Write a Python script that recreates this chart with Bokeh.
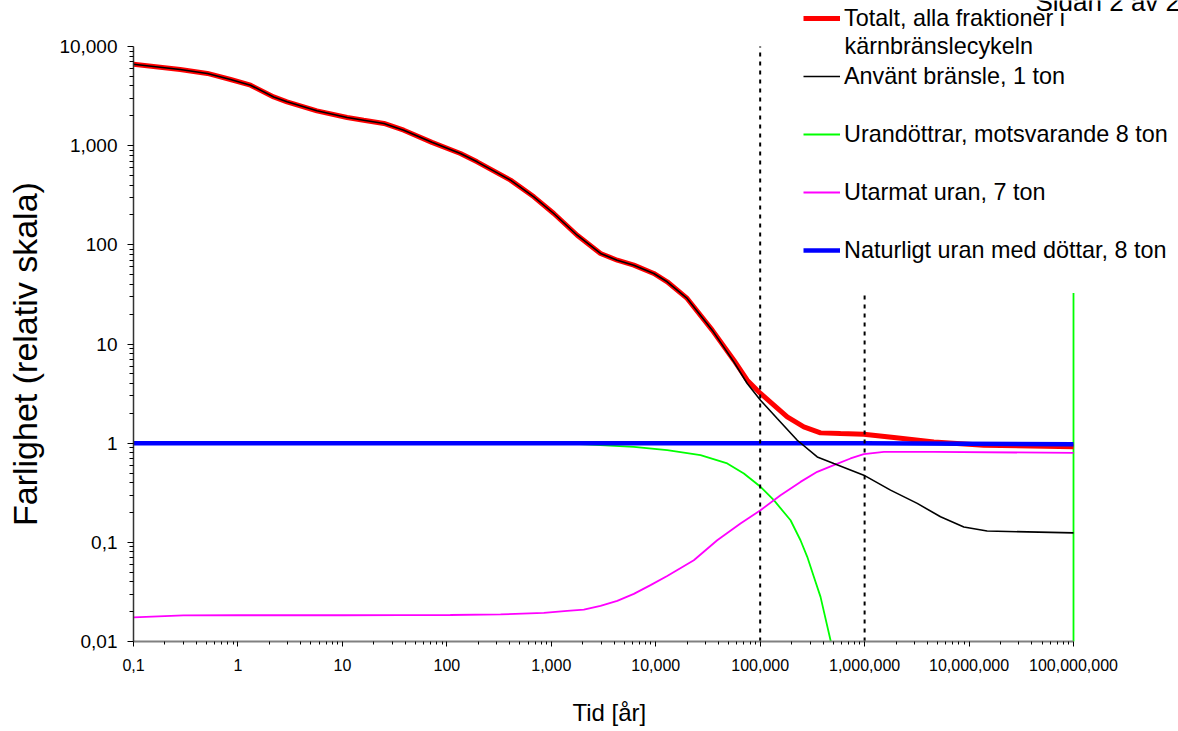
import math
from bokeh.plotting import figure
from bokeh.models import (Range1d, FixedTicker, CustomJSTickFormatter, Legend,
                          LegendItem, Label)
from bokeh.embed import file_html
from bokeh.resources import INLINE

FONT = "Liberation Sans"
NBSP = "\u00a0"

# ---------------- data ----------------
total_x = [0.1, 0.28, 0.51, 0.85, 1.32, 2.2, 2.95, 5.7, 11.1, 16, 25, 38.7, 72,
           135, 195, 407, 681, 1057, 1771, 2960, 4280, 6170, 9590, 12880, 20000,
           34760, 55970, 75160, 100700, 135200, 181600, 261800, 378400, 587600,
           982000, 1.905e6, 4.6e6, 1.385e7, 1e8]
total_y = [6630, 5870, 5350, 4650, 4070, 3100, 2770, 2245, 1925, 1807, 1675, 1433, 1080,
           834, 687, 449, 305, 207, 125, 81.8, 70, 62.4, 51.4, 42.4, 28.8,
           13.8, 6.87, 4.32, 3.17, 2.42, 1.84, 1.46, 1.27, 1.25,
           1.23, 1.14, 1.03, 0.954, 0.918]

spent_x = [0.1, 0.28, 0.51, 0.85, 1.32, 2.2, 2.95, 5.7, 11.1, 16, 25, 38.7, 72,
           135, 195, 407, 681, 1057, 1771, 2960, 4280, 6170, 9590, 12880, 20000,
           34760, 55970, 75160, 100700, 145600, 226500, 351900, 507000, 982000,
           1.77e6, 3.19e6, 5.33e6, 8.91e6, 1.49e7, 1e8]
spent_y = [6630, 5870, 5350, 4650, 4070, 3100, 2770, 2245, 1925, 1807, 1675, 1433, 1080,
           834, 687, 449, 305, 207, 125, 81.8, 70, 62.4, 51.4, 42.4, 28.8,
           13.8, 6.6, 4.0, 2.71, 1.77, 1.07, 0.727, 0.624, 0.476,
           0.336, 0.247, 0.181, 0.143, 0.130, 0.1245]

daughters_x = [0.1, 1500, 2960, 6170, 12880, 26850, 48400, 69800, 100700, 135200,
               195400, 243300, 282400, 326500, 378400, 471700, 5.5e5, 1e8, 1e8]
daughters_y = [1.0, 0.99, 0.955, 0.918, 0.85, 0.757, 0.624, 0.495, 0.363, 0.266,
               0.167, 0.105, 0.0714, 0.0449, 0.0282, 0.0103, 0.005, 1e-5, 32.6]

depleted_x = [0.1, 0.3, 1, 10, 36, 108, 327, 849, 1420, 2050, 2960, 4280, 6170,
              8920, 12880, 23170, 38800, 64800, 100700, 156700, 243300, 351900,
              507000, 732900, 982000, 1.53e6, 4.6e6, 1e8]
depleted_y = [0.0175, 0.0183, 0.0184, 0.0184, 0.01844, 0.0185, 0.01875, 0.01945,
              0.0204, 0.021, 0.0229, 0.0257, 0.0302, 0.037, 0.0458, 0.066, 0.105,
              0.155, 0.211, 0.299, 0.407, 0.514, 0.6, 0.701, 0.775, 0.817, 0.817,
              0.798]

natural_x = [0.1, 1e6, 1e8]
natural_y = [1.0, 1.0, 0.975]

vline_x = [1e5, 1e6]
vline_bottom = [0.01, 0.01]
vline_top = [1e4, 32.6]

x_tick_values = [0.1, 1, 10, 100, 1000, 1e4, 1e5, 1e6, 1e7, 1e8]
x_tick_labels = ["0,1", "1", "10", "100", "1,000", "10,000", "100,000",
                 "1,000,000", "10,000,000", "100,000,000"]
y_tick_values = [0.01, 0.1, 1, 10, 100, 1000, 1e4]
y_tick_labels = ["0,01", "0,1", "1", "10", "100", "1,000", "10,000"]

legend_labels = ["Totalt, alla fraktioner i", "Använt bränsle, 1 ton",
                 "Urandöttrar, motsvarande 8 ton", "Utarmat uran, 7 ton",
                 "Naturligt uran med döttar, 8 ton"]
legend_label_2nd_line = "kärnbränslecykeln"
y_title = "Farlighet (relativ skala)"
x_title = "Tid [år]"
page_note = "Sidan 2 av 2"

# ---------------- figure ----------------
W, H = 1178, 731
p = figure(width=W, height=H, x_axis_type="log", y_axis_type="log",
           x_range=Range1d(0.1, 10 ** 9.0053), y_range=Range1d(0.01, 10 ** 4.4639),
           output_backend="svg", toolbar_location=None, title=None,
           min_border_left=133, min_border_right=0, min_border_top=0,
           min_border_bottom=90)
p.outline_line_color = None
p.grid.visible = False
p.background_fill_color = "white"
p.border_fill_color = "white"


def minor_of(vals):
    out = []
    for v in vals[:-1]:
        for m in range(2, 10):
            out.append(v * m)
    return out


fmt_code = """
for (let i = 0; i < vals.length; i++) {
  if (Math.abs(Math.log10(tick) - Math.log10(vals[i])) < 1e-6) return labs[i];
}
return "";
"""

p.xaxis.ticker = FixedTicker(ticks=x_tick_values, minor_ticks=minor_of(x_tick_values))
p.yaxis.ticker = FixedTicker(ticks=y_tick_values, minor_ticks=minor_of(y_tick_values))
p.xaxis.formatter = CustomJSTickFormatter(args=dict(vals=x_tick_values, labs=x_tick_labels), code=fmt_code)
p.yaxis.formatter = CustomJSTickFormatter(args=dict(vals=y_tick_values, labs=y_tick_labels), code=fmt_code)
p.xaxis.bounds = (0.1, 1e8)
p.yaxis.bounds = (0.01, 1e4)

for ax in (p.xaxis, p.yaxis):
    ax.major_label_text_font = FONT
    ax.major_label_text_color = "black"
    ax.major_tick_in = 0
    ax.minor_tick_in = 0
    ax.major_tick_line_color = "black"
    ax.minor_tick_line_color = "black"
    ax.axis_label_text_font = FONT
    ax.axis_label_text_font_style = "normal"
    ax.axis_label_text_color = "black"

p.xaxis.major_label_text_font_size = "16px"
p.xaxis.major_tick_out = 5
p.xaxis.minor_tick_out = 3
p.xaxis.axis_line_color = "#808080"
p.xaxis.axis_line_width = 2
p.xaxis.major_label_standoff = 12
# trailing no-break spaces keep the title centred under the bounded axis (0,1 .. 100,000,000)
p.xaxis.axis_label = x_title + NBSP * 14
p.xaxis.axis_label_text_font_size = "24px"
p.xaxis.axis_label_standoff = 25

p.yaxis.major_label_text_font_size = "19px"
p.yaxis.major_tick_out = 6
p.yaxis.minor_tick_out = 4
p.yaxis.axis_line_color = "#333333"
p.yaxis.axis_line_width = 1.5
p.yaxis.major_label_standoff = 10
# trailing no-break spaces keep the title centred beside the bounded axis (0,01 .. 10,000)
p.yaxis.axis_label = y_title + NBSP * 7
p.yaxis.axis_label_text_font_size = "34px"
p.yaxis.axis_label_standoff = 12

# ---------------- series ----------------
r_green = p.line(daughters_x, daughters_y, line_color="#00FF00", line_width=1.8)
r_magenta = p.line(depleted_x, depleted_y, line_color="#FF00FF", line_width=1.8)
r_red = p.line(total_x, total_y, line_color="#FF0000", line_width=5)
r_blue = p.line(natural_x, natural_y, line_color="#0000FF", line_width=4.5)
r_black = p.line(spent_x, spent_y, line_color="black", line_width=1.6)

p.segment(x0=vline_x, y0=vline_bottom, x1=vline_x, y1=vline_top,
          line_color="black", line_width=2, line_dash="4 5")

# ---------------- legend ----------------
legend = Legend(items=[
    LegendItem(label=legend_labels[0], renderers=[r_red]),
    LegendItem(label=legend_labels[1], renderers=[r_black]),
    LegendItem(label=legend_labels[2], renderers=[r_green]),
    LegendItem(label=legend_labels[3], renderers=[r_magenta]),
    LegendItem(label=legend_labels[4], renderers=[r_blue]),
], location=(670, 376), orientation="vertical",
    glyph_width=37, glyph_height=30, label_height=30, label_standoff=4,
    spacing=28, padding=0, margin=0, border_line_color=None,
    background_fill_alpha=0, label_text_font=FONT, label_text_font_size="23.4px",
    label_text_color="black")
p.add_layout(legend)

p.add_layout(Label(x=711, y=596, x_units="screen", y_units="screen",
                   text=legend_label_2nd_line, text_font=FONT, text_font_size="23.4px",
                   text_baseline="middle", text_align="left", text_color="black"))

p.add_layout(Label(x=902, y=640, x_units="screen", y_units="screen", text=page_note,
                   text_font=FONT, text_font_size="26px", text_align="left",
                   text_baseline="middle", text_color="black"))

open("out.html", "w").write(file_html(p, INLINE))
